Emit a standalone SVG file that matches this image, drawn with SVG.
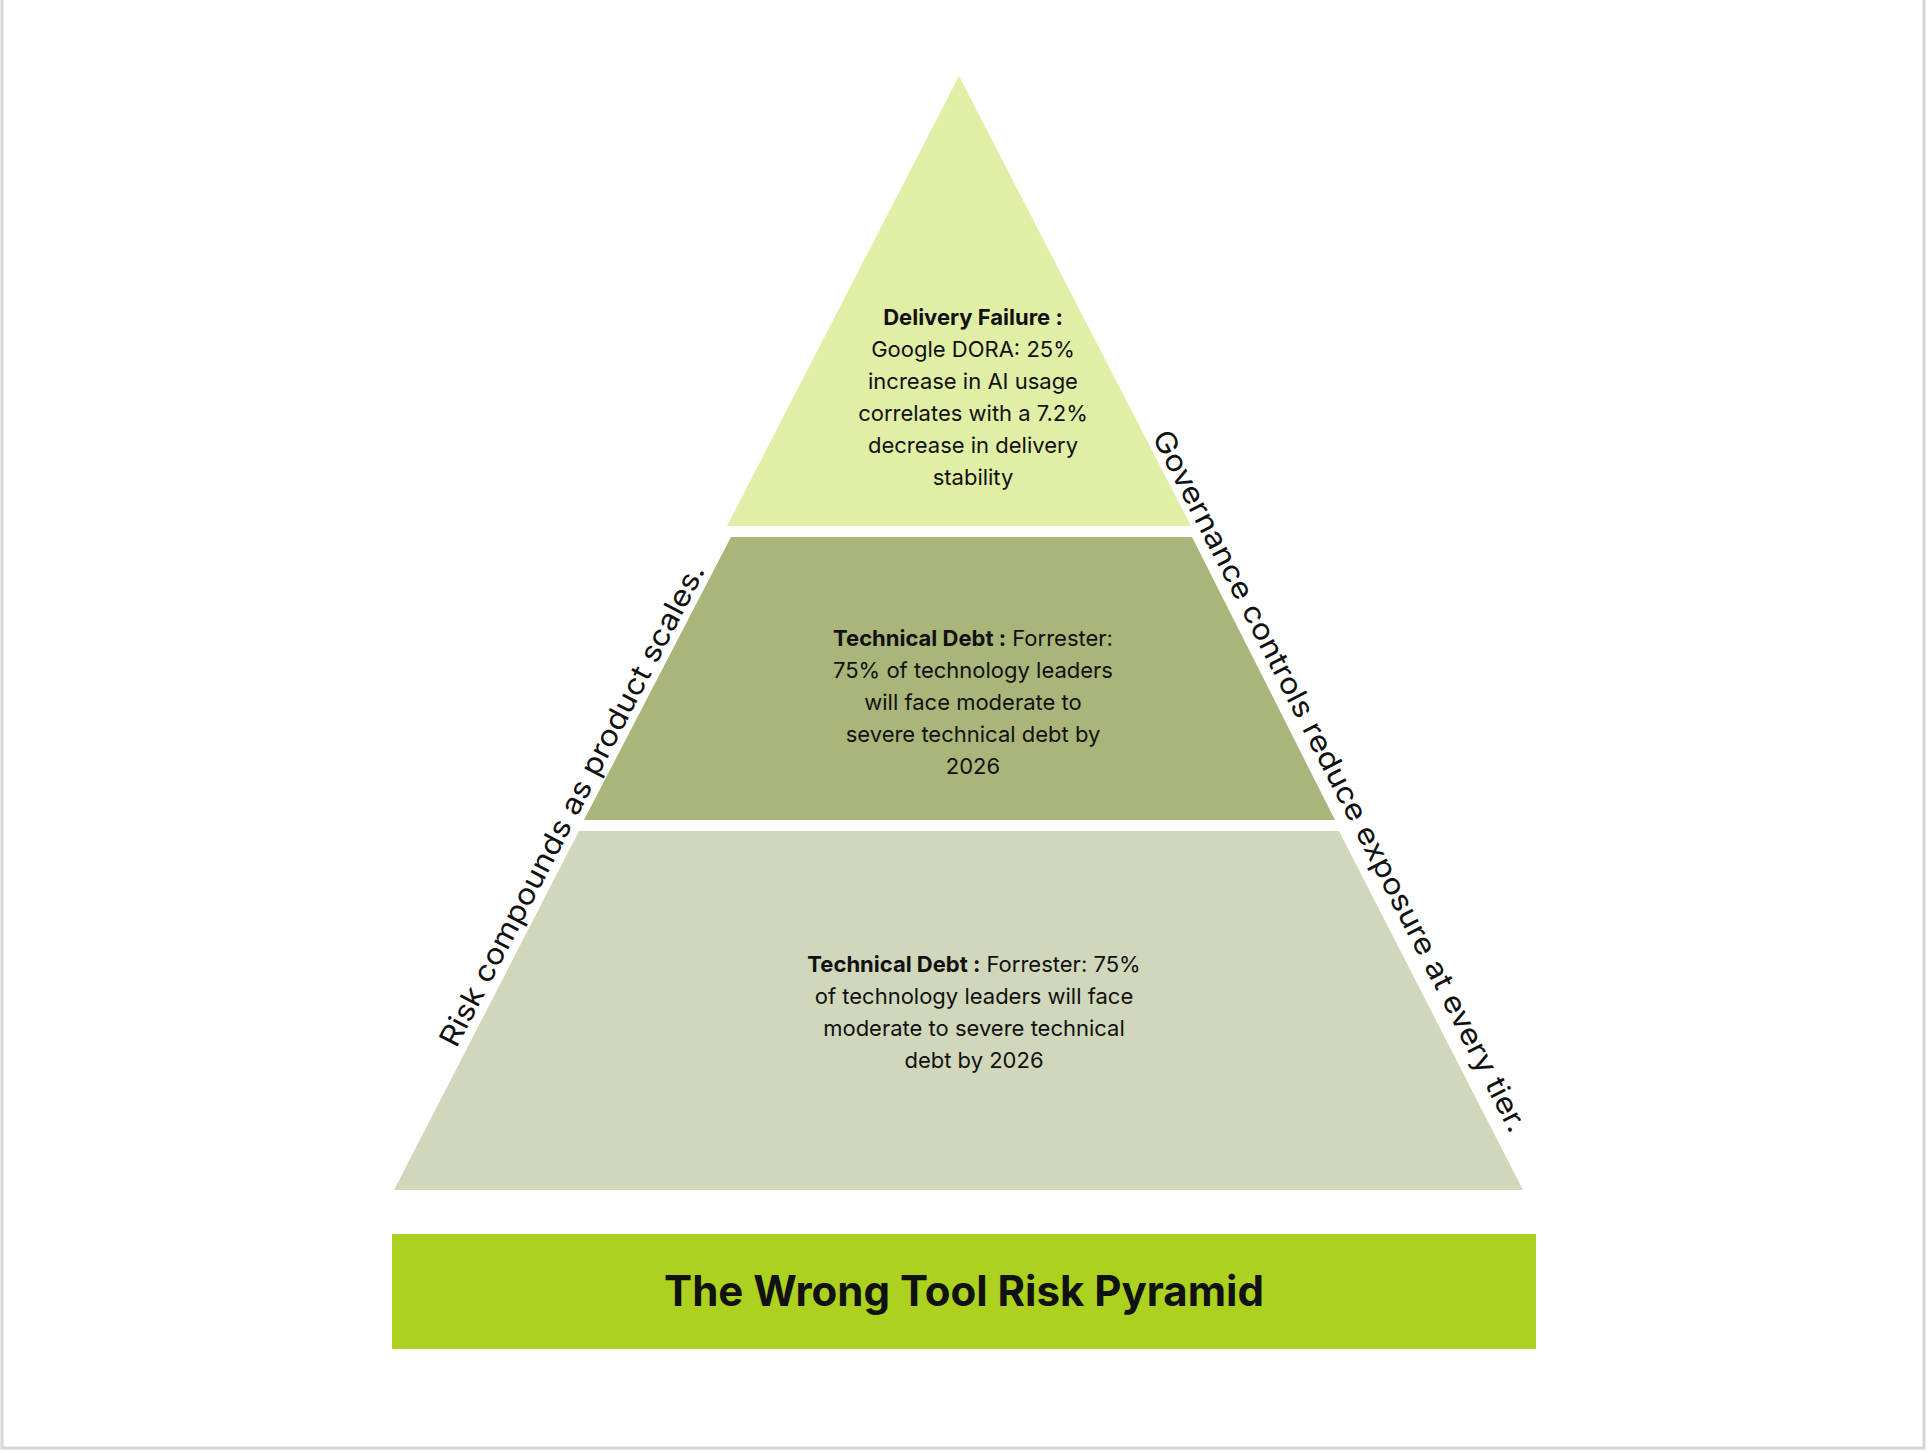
<svg xmlns="http://www.w3.org/2000/svg" width="1928" height="1453" viewBox="0 0 1928 1453">
<style>
.t{font-family:"Inter","Liberation Sans",sans-serif;font-size:22px;fill:#111;text-anchor:middle}
.b{font-weight:bold}
.side{font-family:"Inter","Liberation Sans",sans-serif;font-size:29px;fill:#111;text-anchor:middle}
</style>
<rect x="0" y="0" width="1928" height="1453" fill="#ffffff"/>
<rect x="2" y="-4" width="1922" height="1452" fill="none" stroke="#d6d6d6" stroke-width="3"/>
<g id="tier-top">
<polygon points="959,76 1191,526 727,526" fill="#e0eea6"/>
<text class="t"><tspan x="973" y="325" class="b">Delivery Failure :</tspan><tspan x="973" y="357">Google DORA: 25%</tspan><tspan x="973" y="389">increase in AI usage</tspan><tspan x="973" y="421">correlates with a 7.2%</tspan><tspan x="973" y="453">decrease in delivery</tspan><tspan x="973" y="485">stability</tspan></text>
</g>
<g id="tier-middle">
<polygon points="731,537 1192,537 1335,820 584,820" fill="#aab57a"/>
<text class="t"><tspan x="973" y="646"><tspan class="b">Technical Debt :</tspan> Forrester:</tspan><tspan x="973" y="678">75% of technology leaders</tspan><tspan x="973" y="710">will face moderate to</tspan><tspan x="973" y="742">severe technical debt by</tspan><tspan x="973" y="774">2026</tspan></text>
</g>
<g id="tier-bottom">
<polygon points="579,831 1339,831 1523,1190 394,1190" fill="#d1d7ba"/>
<text class="t"><tspan x="974" y="972"><tspan class="b">Technical Debt :</tspan> Forrester: 75%</tspan><tspan x="974" y="1004">of technology leaders will face</tspan><tspan x="974" y="1036">moderate to severe technical</tspan><tspan x="974" y="1068">debt by 2026</tspan></text>
</g>
<g id="side-left">
<text class="side" transform="translate(572,805) rotate(-62.5)" x="0" y="10" textLength="540" lengthAdjust="spacingAndGlyphs">Risk compounds as product scales.</text>
</g>
<g id="side-right">
<text class="side" transform="translate(1340,781) rotate(62.8)" x="0" y="10" textLength="785" lengthAdjust="spacingAndGlyphs">Governance controls reduce exposure at every tier.</text>
</g>
<g id="title">
<rect x="392" y="1234" width="1144" height="115" fill="#acd11e"/>
<text x="964" y="1306" font-family="Inter,'Liberation Sans',sans-serif" font-size="42" font-weight="bold" text-anchor="middle" fill="#111">The Wrong Tool Risk Pyramid</text>
</g>
<g id="connectors"/>
</svg>
